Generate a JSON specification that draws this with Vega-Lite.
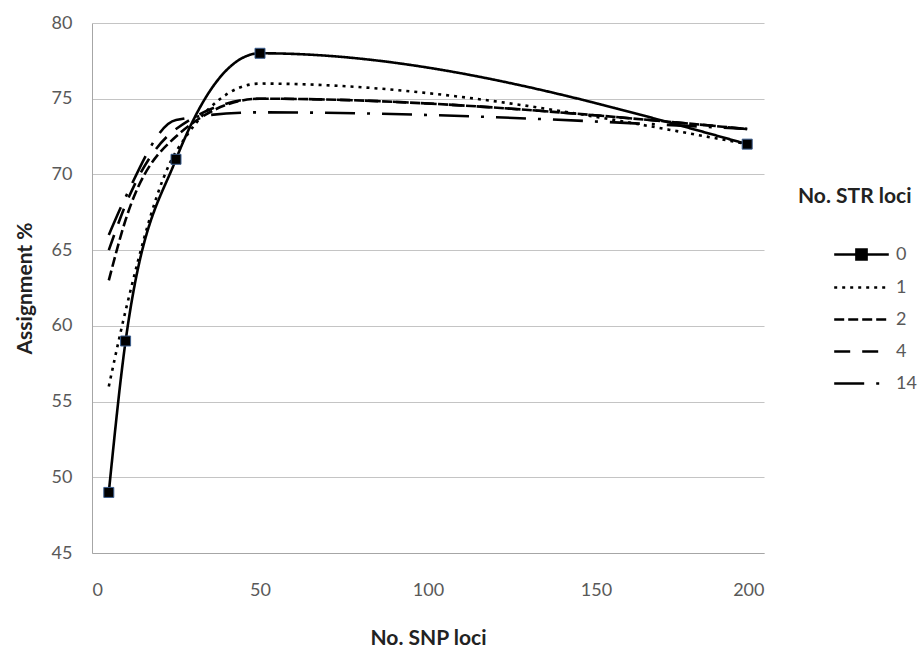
{
  "$schema": "https://vega.github.io/schema/vega-lite/v6.json",
  "width": 672,
  "height": 530,
  "autosize": {"type": "none"},
  "padding": {"left": 92, "top": 23, "right": 157, "bottom": 100},
  "background": "white",
  "config": {
    "font": "Lato",
    "view": {"stroke": null},
    "axis": {
      "labelFont": "Lato",
      "labelFontSize": 18,
      "labelColor": "#595959",
      "titleFont": "Lato",
      "titleFontSize": 21,
      "titleFontWeight": "bold",
      "titleColor": "#222222",
      "domainColor": "#a6a6a6",
      "gridColor": "#c4c4c4",
      "gridWidth": 1.2
    }
  },
  "data": {
    "values": [
      {"series": "0", "snp": 5, "pct": 49},
      {"series": "0", "snp": 10, "pct": 59},
      {"series": "0", "snp": 25, "pct": 71},
      {"series": "0", "snp": 50, "pct": 78},
      {"series": "0", "snp": 195, "pct": 72},
      {"series": "1", "snp": 5, "pct": 56},
      {"series": "1", "snp": 10, "pct": 61},
      {"series": "1", "snp": 25, "pct": 71.5},
      {"series": "1", "snp": 50, "pct": 76},
      {"series": "1", "snp": 195, "pct": 72},
      {"series": "2", "snp": 5, "pct": 63},
      {"series": "2", "snp": 10, "pct": 67},
      {"series": "2", "snp": 25, "pct": 72.5},
      {"series": "2", "snp": 50, "pct": 75},
      {"series": "2", "snp": 195, "pct": 73},
      {"series": "4", "snp": 5, "pct": 65},
      {"series": "4", "snp": 10, "pct": 68},
      {"series": "4", "snp": 25, "pct": 73},
      {"series": "4", "snp": 50, "pct": 75},
      {"series": "4", "snp": 195, "pct": 73},
      {"series": "14", "snp": 5, "pct": 66},
      {"series": "14", "snp": 10, "pct": 68.5},
      {"series": "14", "snp": 25, "pct": 73.6},
      {"series": "14", "snp": 50, "pct": 74.1},
      {"series": "14", "snp": 195, "pct": 73}
    ]
  },
  "layer": [
    {
      "mark": {"type": "line", "interpolate": "monotone", "color": "black", "strokeWidth": 2.6, "strokeCap": "butt"},
      "encoding": {
        "x": {
          "field": "snp", "type": "quantitative",
          "scale": {"domain": [0, 200], "nice": false},
          "axis": {"values": [0, 50, 100, 150, 200], "grid": false, "ticks": false, "labelPadding": 28, "title": "No. SNP loci", "titlePadding": 28}
        },
        "y": {
          "field": "pct", "type": "quantitative",
          "scale": {"domain": [45, 80], "nice": false, "zero": false},
          "axis": {"values": [45, 50, 55, 60, 65, 70, 75, 80], "grid": true, "ticks": false, "labelPadding": 20, "title": "Assignment %", "titlePadding": 16}
        },
        "detail": {"field": "series"},
        "strokeDash": {
          "field": "series", "type": "nominal",
          "scale": {"domain": ["0", "1", "2", "4", "14"], "range": [[1, 0], [3, 5], [10, 4], [16, 12], [30, 12, 3, 12]]},
          "legend": {
            "title": "No. STR loci",
            "orient": "none",
            "legendX": 706,
            "legendY": 163,
            "titleFont": "Lato",
            "titleFontSize": 21,
            "titleFontWeight": "bold",
            "titleColor": "#222222",
            "titlePadding": 25,
            "labelFont": "Lato",
            "labelFontSize": 18,
            "labelColor": "#595959",
            "labelOffset": 12,
            "symbolSize": 1764,
            "symbolOffset": 41,
            "symbolStrokeWidth": 2.6,
            "symbolStrokeColor": "black",
            "rowPadding": 0,
            "encode": {
              "symbols": {
                "update": {
                  "shape": {"signal": "datum.value === '0' ? 'M-1.3,0H1.3M-0.24,-0.24H0.24V0.24H-0.24Z' : 'M-1.3,0H1.3'"},
                  "fill": {"signal": "datum.value === '0' ? 'black' : 'transparent'"},
                  "stroke": {"value": "black"}
                }
              }
            }
          }
        }
      }
    },
    {
      "transform": [{"filter": "datum.series === '0'"}],
      "mark": {"type": "point", "shape": "square", "filled": true, "size": 100, "color": "black", "stroke": "#3d5f8f", "strokeWidth": 1, "opacity": 1},
      "encoding": {
        "x": {"field": "snp", "type": "quantitative"},
        "y": {"field": "pct", "type": "quantitative"}
      }
    }
  ]
}
